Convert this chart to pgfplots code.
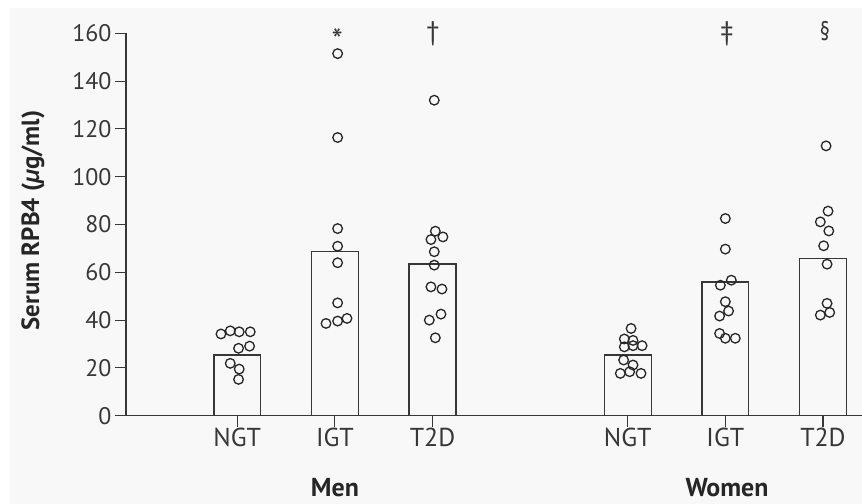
\documentclass[border=0pt]{standalone}
\usepackage{fontspec}
\setmainfont{PT Sans}
\usepackage{pgfplots}
\pgfplotsset{compat=1.18}
\definecolor{bg}{RGB}{248,248,248}
\definecolor{ink}{RGB}{55,55,55}
\begin{document}
\begin{tikzpicture}
\path[use as bounding box] (-126bp,-88.3bp) rectangle (736bp,415.7bp);
\fill[bg] (-116bp,-88.3bp) rectangle (736bp,408bp);
\begin{axis}[
  at={(0,0)}, anchor=south west, scale only axis,
  width=736bp, height=382.4bp,
  xmin=-1.14, xmax=6.40, ymin=0, ymax=160,
  axis lines=left, axis line style={-, draw=ink, line width=1.1bp},
  clip=false,
  xtick={0,1,2,4,5,6}, xticklabels={NGT,IGT,T2D,NGT,IGT,T2D},
  ytick={0,20,...,160},
  tick align=outside, major tick length=11bp,
  tick style={draw=ink, line width=1.1bp},
  yticklabel style={font=\fontsize{24}{26}\selectfont, text=ink},
  xticklabel style={font=\fontsize{26}{28}\selectfont, text=ink, yshift=2bp},
  ylabel={\bfseries Serum RPB4 (\textit{µ}g/ml)},
  ylabel style={at={(axis description cs:-0.1264,0.51)}, anchor=center, font=\fontsize{25}{28}\selectfont, text=black!85},
  /pgf/number format/assume math mode=true,
]
\addplot[ybar, bar width=0.48, draw=ink, line width=1.3bp, fill=none] coordinates {
  (0,25.4) (1,68.6) (2,63.5) (4,25.4) (5,56.0) (6,65.9)
};
% Men NGT
\addplot[only marks, mark=o, mark size=4.8bp, mark options={draw=black!85, line width=1.3bp, fill=none}] coordinates {
  (-0.167,34.2) (-0.072,35.5) (0.020,35.1) (0.133,35.1) (0.013,28.2) (0.126,29.1) (-0.072,21.9) (0.020,19.5) (0.013,15.2)
};
% Men IGT
\addplot[only marks, mark=o, mark size=4.8bp, mark options={draw=black!85, line width=1.3bp, fill=none}] coordinates {
  (1.028,151.5) (1.028,116.4) (1.028,78.3) (1.028,70.9) (1.028,64.0) (1.028,47.2) (0.909,38.6) (1.028,39.6) (1.124,40.7)
};
% Men T2D
\addplot[only marks, mark=o, mark size=4.8bp, mark options={draw=black!85, line width=1.3bp, fill=none}] coordinates {
  (2.018,132.0) (2.029,77.2) (2.107,74.8) (1.984,73.7) (2.018,68.6) (2.018,63.0) (1.984,53.9) (2.097,53.0) (2.087,42.5) (1.967,40.0) (2.029,32.6)
};
% Women NGT
\addplot[only marks, mark=o, mark size=4.8bp, mark options={draw=black!85, line width=1.3bp, fill=none}] coordinates {
  (4.034,36.5) (3.965,32.1) (4.054,31.5) (3.965,28.8) (4.054,29.3) (4.147,29.3) (3.958,23.3) (4.054,21.2) (3.924,17.7) (4.020,18.4) (4.136,17.7)
};
% Women IGT
\addplot[only marks, mark=o, mark size=4.8bp, mark options={draw=black!85, line width=1.3bp, fill=none}] coordinates {
  (5.000,82.5) (5.000,69.7) (4.949,54.6) (5.061,56.7) (5.000,47.7) (5.033,43.8) (4.941,41.7) (4.941,34.4) (5.000,32.4) (5.102,32.4)
};
% Women T2D
\addplot[only marks, mark=o, mark size=4.8bp, mark options={draw=black!85, line width=1.3bp, fill=none}] coordinates {
  (6.032,112.9) (6.052,85.6) (5.973,81.1) (6.060,77.3) (6.007,71.1) (6.042,63.4) (6.042,47.0) (5.973,42.1) (6.069,43.2)
};
\node[anchor=base, font=\fontsize{32}{34}\selectfont, text=ink] at (axis cs:1.025,152.5) {*};
\node[anchor=base, font=\fontsize{27}{30}\selectfont, text=ink] at (axis cs:2.005,157) {\textdagger};
\node[anchor=base, font=\fontsize{27}{30}\selectfont, text=ink] at (axis cs:5.017,157) {\textdaggerdbl};
\node[anchor=base, font=\fontsize{27}{30}\selectfont, text=ink, xscale=0.75] at (axis cs:6.020,157) {\S};
\node[yshift=-72.3bp, font=\bfseries\fontsize{26}{28}\selectfont, text=black!85] at (axis cs:1,0) {Men};
\node[yshift=-72.3bp, font=\bfseries\fontsize{26}{28}\selectfont, text=black!85] at (axis cs:5.017,0) {Women};
\end{axis}
\end{tikzpicture}
\end{document}
